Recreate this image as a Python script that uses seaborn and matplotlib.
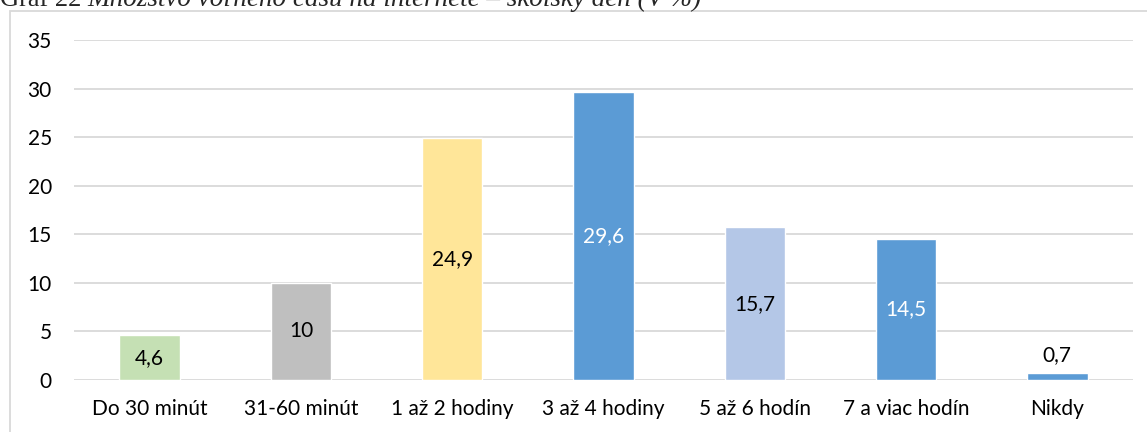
import matplotlib
matplotlib.use("Agg")
import matplotlib.pyplot as plt
import seaborn as sns
import pandas as pd
from matplotlib.patches import Rectangle

# data
categories = ["Do 30 minút", "31-60 minút", "1 až 2 hodiny", "3 až 4 hodiny",
              "5 až 6 hodín", "7 a viac hodín", "Nikdy"]
values = [4.6, 10, 24.9, 29.6, 15.7, 14.5, 0.7]
value_labels = ["4,6", "10", "24,9", "29,6", "15,7", "14,5", "0,7"]
bar_colors = ["#C5E0B4", "#BFBFBF", "#FFE699", "#5B9BD5", "#B4C7E7", "#5B9BD5", "#5B9BD5"]
label_colors = ["#000000", "#000000", "#000000", "#FFFFFF", "#000000", "#FFFFFF", "#000000"]
y_ticks = [0, 5, 10, 15, 20, 25, 30, 35]

df = pd.DataFrame({"cat": categories, "val": values})

sns.set_theme(style="white")
plt.rcParams["font.family"] = ["Lato", "DejaVu Sans"]

fig = plt.figure(figsize=(11.47, 4.32), dpi=100)
ax = fig.add_axes([74 / 1147, 1 - 380 / 432, (1133 - 74) / 1147, (380 - 40) / 432])

sns.barplot(data=df, x="cat", y="val", hue="cat", palette=bar_colors,
            legend=False, width=0.4, saturation=1, ax=ax, zorder=3)

for i, cont in enumerate(ax.containers):
    if values[i] < 2:
        ax.bar_label(cont, labels=[value_labels[i]], label_type="edge", padding=6,
                     fontsize=15, color=label_colors[i])
    else:
        ax.bar_label(cont, labels=[value_labels[i]], label_type="center",
                     fontsize=15, color=label_colors[i])

ax.set_ylim(0, 35)
ax.set_yticks(y_ticks)
ax.set_xlim(-0.5, len(categories) - 0.5)
ax.yaxis.grid(True, color="#D9D9D9", linewidth=1.3, zorder=0)
ax.set_axisbelow(True)
for s in ax.spines.values():
    s.set_visible(False)
ax.tick_params(axis="both", length=0, labelsize=15, colors="#000000")
ax.tick_params(axis="y", pad=16)
ax.tick_params(axis="x", pad=14)
ax.set_xlabel("")
ax.set_ylabel("")

# chart frame
fig.patches.append(Rectangle((10 / 1147, -0.2), 1.1, 1 - 11 / 432 + 0.2,
                             transform=fig.transFigure, fill=False,
                             edgecolor="#D9D9D9", linewidth=1.3))

# title, cut off at the top edge like the source
t1 = fig.text(0.0, 1 - 6 / 432, "Graf 22", family="Liberation Serif", fontsize=19,
              va="baseline", ha="left")
fig.canvas.draw()
bb = t1.get_window_extent()
fig.text((bb.x1 + 6) / 1147, 1 - 6 / 432,
         "Množstvo voľného času na internete – školský deň (V %)",
         family="Liberation Serif", style="italic", fontsize=19.5, va="baseline", ha="left")

fig.savefig("out.png", dpi=100)
